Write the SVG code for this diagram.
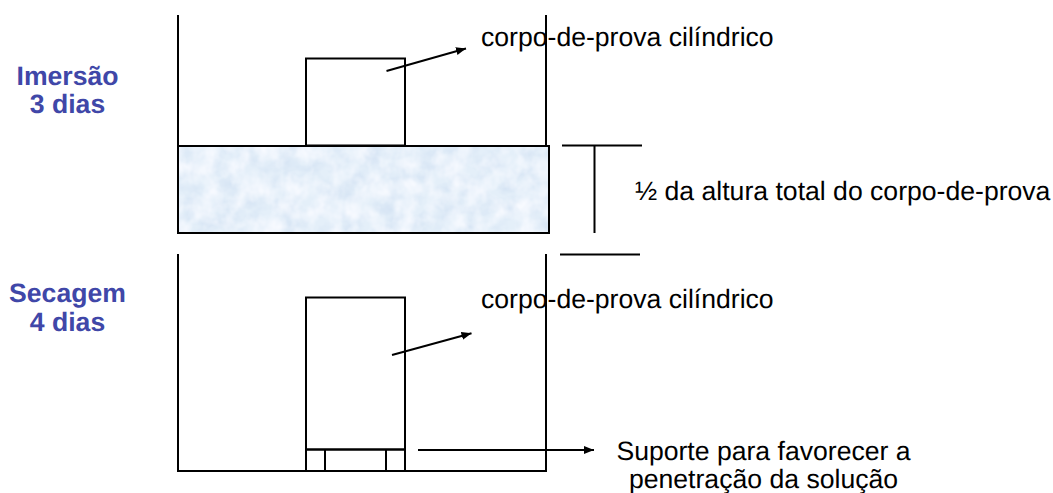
<svg xmlns="http://www.w3.org/2000/svg" width="1053" height="493" viewBox="0 0 1053 493">
<style>
.l{stroke:#000;stroke-width:2;fill:none}
text{text-rendering:geometricPrecision}
.t{font-family:"Liberation Sans",Arial,sans-serif;font-size:26.6px;fill:#000}
.h{font-family:"Liberation Sans",Arial,sans-serif;font-size:26.6px;font-weight:bold;fill:#4047a8;text-anchor:middle}
</style>
<defs>
<marker id="a" markerUnits="userSpaceOnUse" markerWidth="12" markerHeight="10" refX="10" refY="4" orient="auto"><path d="M0 0L10 4L0 8Z" fill="#000"/></marker>
<filter id="w" x="0" y="0" width="100%" height="100%" color-interpolation-filters="sRGB"><feTurbulence type="fractalNoise" baseFrequency="0.05 0.07" numOctaves="3" seed="4"/><feColorMatrix values="0 0 0 0 0.82 0 0 0 0 0.88 0 0 0 0 0.95 1.6 0 0 0 -0.6"/></filter>
<filter id="v" x="0" y="0" width="100%" height="100%" color-interpolation-filters="sRGB"><feTurbulence type="fractalNoise" baseFrequency="0.06 0.05" numOctaves="3" seed="11"/><feColorMatrix values="0 0 0 0 0.97 0 0 0 0 0.98 0 0 0 0 1 2 0 0 0 -0.7"/></filter>
</defs>
<rect width="1053" height="493" fill="#fff"/>
<g id="imersao-label"><text class="h" x="67.500" y="84.500">Imersão</text><text class="h" x="67.500" y="113">3 dias</text></g>
<g id="secagem-label"><text class="h" x="67.500" y="301.500">Secagem</text><text class="h" x="67.500" y="330.500">4 dias</text></g>
<g id="tank-top"><path class="l" d="M178 15V146M546 15V146"/></g>
<g id="specimen-top"><rect class="l" x="306" y="58.500" width="99" height="87"/></g>
<g id="water">
<rect x="178" y="146" width="371" height="87" fill="#e4eff9"/>
<rect x="178" y="146" width="371" height="87" filter="url(#w)"/>
<rect x="178" y="146" width="371" height="87" filter="url(#v)"/>
<rect class="l" x="178" y="146" width="371" height="87"/>
</g>
<g id="tank-bottom"><path class="l" d="M178 254V471H546V254"/></g>
<g id="specimen-bottom"><rect class="l" x="306" y="297.500" width="99" height="152"/></g>
<g id="support"><rect class="l" x="306" y="449.500" width="99" height="21.500"/><path class="l" d="M325 449.500V471M386 449.500V471"/></g>
<g id="dimension"><path class="l" d="M562 145.500H642M594.500 146V233M560 254.500H640"/></g>
<g id="connectors">
<path class="l" d="M386.500 71L466 48.500" marker-end="url(#a)"/>
<path class="l" d="M392 355L471.500 333.200" marker-end="url(#a)"/>
<path class="l" d="M418 450H594" marker-end="url(#a)"/>
</g>
<g id="labels">
<text class="t" x="481" y="45.500">corpo-de-prova cilíndrico</text>
<text class="t" x="481" y="307.500">corpo-de-prova cilíndrico</text>
<text class="t" x="635" y="200">½ da altura total do corpo-de-prova</text>
<text class="t" x="763.500" y="459.500" text-anchor="middle">Suporte para favorecer a</text>
<text class="t" x="763.500" y="487.500" text-anchor="middle">penetração da solução</text>
</g>
</svg>
